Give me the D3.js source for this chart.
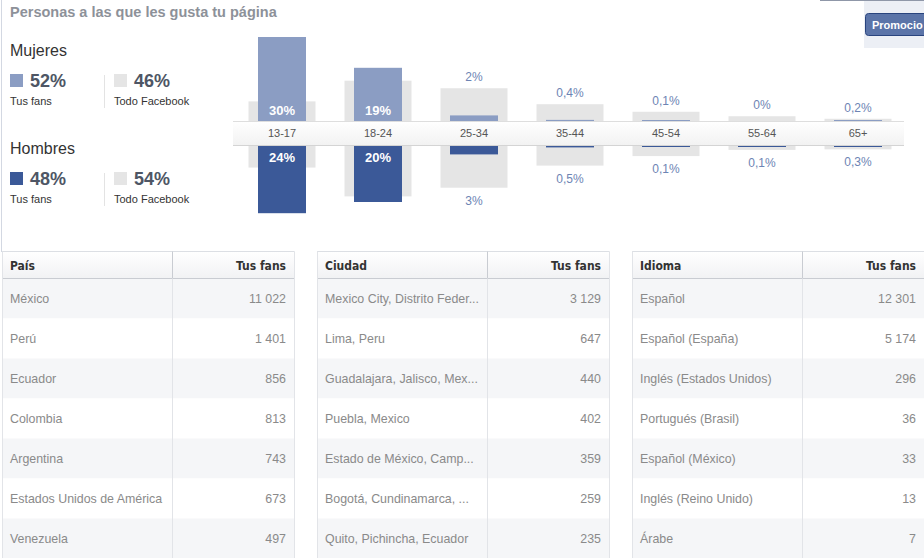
<!DOCTYPE html>
<html>
<head>
<meta charset="utf-8">
<script src="https://cdn.jsdelivr.net/npm/d3@7"></script>
<style>
  body { margin: 0; background: #fff; }
  svg { display: block; font-family: "Liberation Sans", Arial, sans-serif; }
</style>
</head>
<body>
<svg id="chart" width="924" height="558"></svg>
<script>
// Age groups and shares (%)
const ageGroups = ["13-17", "18-24", "25-34", "35-44", "45-54", "55-64", "65+"];
const womenFans = [30, 19, 2, 0.4, 0.1, 0, 0.2];
const menFans = [24, 20, 3, 0.5, 0.1, 0.1, 0.3];
const womenAll = [7, 14.4, 11.7, 6, 3.3, 1.7, 0.8];
const menAll = [7.7, 18, 14.9, 7, 3.6, 1.4, 1.2];

// Summary
const genders = ["Mujeres", "Hombres"];
const genderFans = [52, 48];
const genderAll = [46, 54];

// Tables
const countries = ["México", "Perú", "Ecuador", "Colombia", "Argentina", "Estados Unidos de América", "Venezuela"];
const countryFans = [11022, 1401, 856, 813, 743, 673, 497];
const cities = ["Mexico City, Distrito Feder...", "Lima, Peru", "Guadalajara, Jalisco, Mex...", "Puebla, Mexico", "Estado de México, Camp...", "Bogotá, Cundinamarca, ...", "Quito, Pichincha, Ecuador"];
const cityFans = [3129, 647, 440, 402, 359, 259, 235];
const languages = ["Español", "Español (España)", "Inglés (Estados Unidos)", "Portugués (Brasil)", "Español (México)", "Inglés (Reino Unido)", "Árabe"];
const languageFans = [12301, 5174, 296, 36, 33, 13, 7];

const womenColor = "#8b9dc3";
const menColor = "#3b5998";
const allColor = "#e5e5e5";
const labelColor = "#6d84b4";

const svg = d3.select("#chart");

const defs = svg.append("defs");
const bandGrad = defs.append("linearGradient").attr("id", "bandGrad").attr("x1", 0).attr("y1", 0).attr("x2", 0).attr("y2", 1);
bandGrad.append("stop").attr("offset", "0%").attr("stop-color", "#ffffff");
bandGrad.append("stop").attr("offset", "100%").attr("stop-color", "#f2f2f2");
const headGrad = defs.append("linearGradient").attr("id", "headGrad").attr("x1", 0).attr("y1", 0).attr("x2", 0).attr("y2", 1);
headGrad.append("stop").attr("offset", "0%").attr("stop-color", "#ffffff");
headGrad.append("stop").attr("offset", "100%").attr("stop-color", "#f1f2f4");

// Frame lines
svg.append("line").attr("x1", 1.5).attr("x2", 1.5).attr("y1", 0).attr("y2", 252)
  .attr("stroke", "#d3d8e2");
svg.append("line").attr("x1", 820).attr("x2", 924).attr("y1", 0.5).attr("y2", 0.5)
  .attr("stroke", "#8f97a8");

// Title
svg.append("text")
  .attr("x", 10).attr("y", 17)
  .attr("font-size", 14.5).attr("font-weight", "bold")
  .attr("fill", "#8d9199")
  .text("Personas a las que les gusta tu página");

// Promote button panel
svg.append("rect").attr("x", 864).attr("y", 1).attr("width", 60).attr("height", 47).attr("fill", "#eceff5");
svg.append("rect").attr("x", 865.5).attr("y", 13.5).attr("width", 70).attr("height", 22).attr("rx", 3)
  .attr("fill", "#5b74a8").attr("stroke", "#29447e");
svg.append("text").attr("x", 872).attr("y", 28.5)
  .attr("font-size", 11).attr("font-weight", "bold").attr("fill", "#fff")
  .text("Promocio");

// Gender summaries
const fmtPct = d => d3.format(".0f")(d) + "%";
genders.forEach((g, i) => {
  const y0 = 50 + i * 98;
  const grp = svg.append("g");
  grp.append("text").attr("x", 10).attr("y", y0 + 6)
    .attr("font-size", 16).attr("fill", "#333").text(g);
  grp.append("rect").attr("x", 10).attr("y", y0 + 24).attr("width", 13).attr("height", 13)
    .attr("fill", i === 0 ? womenColor : menColor);
  grp.append("text").attr("x", 30).attr("y", y0 + 37)
    .attr("font-size", 18).attr("font-weight", "bold").attr("fill", "#4e5665")
    .text(fmtPct(genderFans[i]));
  grp.append("text").attr("x", 10).attr("y", y0 + 55)
    .attr("font-size", 11).attr("fill", "#333").text("Tus fans");
  grp.append("line").attr("x1", 104.5).attr("x2", 104.5).attr("y1", y0 + 25).attr("y2", y0 + 58)
    .attr("stroke", "#e3e3e3");
  grp.append("rect").attr("x", 114).attr("y", y0 + 24).attr("width", 13).attr("height", 13)
    .attr("fill", allColor);
  grp.append("text").attr("x", 134).attr("y", y0 + 37)
    .attr("font-size", 18).attr("font-weight", "bold").attr("fill", "#4e5665")
    .text(fmtPct(genderAll[i]));
  grp.append("text").attr("x", 114).attr("y", y0 + 55)
    .attr("font-size", 11).attr("fill", "#333").text("Todo Facebook");
});

// Age chart
const topBase = 121;
const botBase = 146;
const x = d3.scaleBand().domain(ageGroups).range([234, 906]);
const h = d3.scaleLinear().domain([0, 30]).range([0, 84]);
const barW = 48;
const greyW = 67;
const cx = d => x(d) + x.bandwidth() / 2;
const barH = v => v > 0 ? Math.max(1, h(v)) : 0;
const fmtVal = v => String(v).replace(".", ",") + "%";

const rows = ageGroups.map((a, i) => ({
  age: a, wf: womenFans[i], mf: menFans[i], wa: womenAll[i], ma: menAll[i]
}));

const chart = svg.append("g");

// Facebook-wide (grey) boxes
chart.selectAll(".allTop").data(rows).enter().append("rect")
  .attr("x", d => cx(d.age) - greyW / 2).attr("width", greyW)
  .attr("y", d => topBase - h(d.wa)).attr("height", d => h(d.wa))
  .attr("fill", allColor);
chart.selectAll(".allBot").data(rows).enter().append("rect")
  .attr("x", d => cx(d.age) - greyW / 2).attr("width", greyW)
  .attr("y", botBase).attr("height", d => h(d.ma))
  .attr("fill", allColor);

// Fan bars
chart.selectAll(".fanTop").data(rows).enter().append("rect")
  .attr("x", d => cx(d.age) - barW / 2).attr("width", barW)
  .attr("y", d => topBase - barH(d.wf)).attr("height", d => barH(d.wf))
  .attr("fill", womenColor);
chart.selectAll(".fanBot").data(rows).enter().append("rect")
  .attr("x", d => cx(d.age) - barW / 2).attr("width", barW)
  .attr("y", botBase).attr("height", d => barH(d.mf))
  .attr("fill", menColor);

// Age band
chart.append("rect").attr("x", 233).attr("y", topBase).attr("width", 671).attr("height", botBase - topBase)
  .attr("fill", "url(#bandGrad)");
chart.append("line").attr("x1", 233).attr("x2", 904).attr("y1", topBase + 0.5).attr("y2", topBase + 0.5).attr("stroke", "#dedede");
chart.append("line").attr("x1", 233).attr("x2", 904).attr("y1", botBase - 0.5).attr("y2", botBase - 0.5).attr("stroke", "#d4d4d4");
chart.selectAll(".ageLbl").data(rows).enter().append("text")
  .attr("x", d => cx(d.age)).attr("y", 137)
  .attr("text-anchor", "middle").attr("font-size", 11).attr("fill", "#555")
  .text(d => d.age);

// Value labels
const inside = v => h(v) > 30;
chart.selectAll(".lblTop").data(rows).enter().append("text")
  .attr("x", d => cx(d.age))
  .attr("y", d => inside(d.wf) ? topBase - 6 : topBase - Math.max(h(d.wa), barH(d.wf)) - 7)
  .attr("text-anchor", "middle")
  .attr("font-size", d => inside(d.wf) ? 13 : 12)
  .attr("font-weight", d => inside(d.wf) ? "bold" : "normal")
  .attr("fill", d => inside(d.wf) ? "#fff" : labelColor)
  .text(d => fmtVal(d.wf));
chart.selectAll(".lblBot").data(rows).enter().append("text")
  .attr("x", d => cx(d.age))
  .attr("y", d => inside(d.mf) ? botBase + 16 : botBase + Math.max(h(d.ma), barH(d.mf)) + 17)
  .attr("text-anchor", "middle")
  .attr("font-size", d => inside(d.mf) ? 13 : 12)
  .attr("font-weight", d => inside(d.mf) ? "bold" : "normal")
  .attr("fill", d => inside(d.mf) ? "#fff" : labelColor)
  .text(d => fmtVal(d.mf));

// Tables
const fmtNum = d3.formatLocale({ decimal: ",", thousands: "\u00a0", grouping: [3], currency: ["", ""] }).format(",d");
const tables = [
  { title: "País", names: countries, values: countryFans, x0: 2, x1: 294.5, div: 172 },
  { title: "Ciudad", names: cities, values: cityFans, x0: 317, x1: 609.5, div: 487 },
  { title: "Idioma", names: languages, values: languageFans, x0: 632, x1: 930, div: 802 }
];
const headTop = 251.5;
const headH = 27;
const rowH = 40;

tables.forEach(t => {
  const g = svg.append("g");
  const rowY = d3.scaleBand().domain(d3.range(t.names.length)).range([headTop + headH, headTop + headH + rowH * t.names.length]);
  g.append("rect").attr("x", t.x0).attr("y", headTop).attr("width", t.x1 - t.x0).attr("height", headH)
    .attr("fill", "url(#headGrad)");
  g.selectAll(".row").data(t.names).enter().append("rect")
    .attr("x", t.x0).attr("width", t.x1 - t.x0)
    .attr("y", (d, i) => rowY(i)).attr("height", rowY.bandwidth())
    .attr("fill", (d, i) => i % 2 === 0 ? "#f5f6f8" : "#ffffff");
  g.append("line").attr("x1", t.x0).attr("x2", t.x1).attr("y1", headTop).attr("y2", headTop).attr("stroke", "#dcdfe4");
  g.append("line").attr("x1", t.x0).attr("x2", t.x1).attr("y1", headTop + headH).attr("y2", headTop + headH).attr("stroke", "#c9ccd2");
  g.append("line").attr("x1", t.x0 + 0.5).attr("x2", t.x0 + 0.5).attr("y1", headTop).attr("y2", 558).attr("stroke", "#e2e4e8");
  g.append("line").attr("x1", t.x1).attr("x2", t.x1).attr("y1", headTop).attr("y2", 558).attr("stroke", "#e2e4e8");
  g.append("line").attr("x1", t.div + 0.5).attr("x2", t.div + 0.5).attr("y1", headTop).attr("y2", headTop + headH).attr("stroke", "#c9ccd2");
  g.append("line").attr("x1", t.div + 0.5).attr("x2", t.div + 0.5).attr("y1", headTop + headH).attr("y2", 558).attr("stroke", "#e2e4e8");
  g.append("text").attr("x", t.x0 + 8).attr("y", headTop + 18)
    .attr("font-family", "'DejaVu Sans Condensed', 'DejaVu Sans', sans-serif")
    .attr("font-size", 12).attr("font-weight", "bold").attr("fill", "#333").text(t.title);
  g.append("text").attr("x", t.div + 114).attr("y", headTop + 18).attr("text-anchor", "end")
    .attr("font-family", "'DejaVu Sans Condensed', 'DejaVu Sans', sans-serif")
    .attr("font-size", 12).attr("font-weight", "bold").attr("fill", "#333").text("Tus fans");
  g.selectAll(".name").data(t.names).enter().append("text")
    .attr("x", t.x0 + 8).attr("y", (d, i) => rowY(i) + 24)
    .attr("font-size", 12.4).attr("fill", "#8a8a8a").text(d => d);
  g.selectAll(".val").data(t.values).enter().append("text")
    .attr("x", t.div + 114).attr("y", (d, i) => rowY(i) + 24).attr("text-anchor", "end")
    .attr("font-size", 12.4).attr("fill", "#8a8a8a").text(d => fmtNum(d));
});
</script>
</body>
</html>
